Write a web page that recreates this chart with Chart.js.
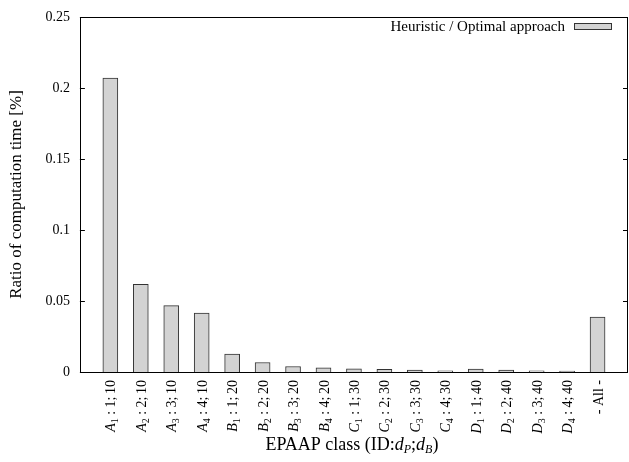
<!DOCTYPE html>
<html>
<head>
<meta charset="utf-8">
<script src="https://cdn.jsdelivr.net/npm/chart.js@4/dist/chart.umd.min.js"></script>
<style>
  html, body { margin: 0; padding: 0; background: #fff; }
  #wrap { width: 629px; height: 462px; }
</style>
</head>
<body>
<div id="wrap"><canvas id="grafico"></canvas></div>
<script>
// ---- dados
const classLetters = ['A', 'A', 'A', 'A', 'B', 'B', 'B', 'B', 'C', 'C', 'C', 'C', 'D', 'D', 'D', 'D'];
const classIndex = ['1', '2', '3', '4', '1', '2', '3', '4', '1', '2', '3', '4', '1', '2', '3', '4'];
const dPValues = ['1', '2', '3', '4', '1', '2', '3', '4', '1', '2', '3', '4', '1', '2', '3', '4'];
const dBValues = ['10', '10', '10', '10', '20', '20', '20', '20', '30', '30', '30', '30', '40', '40', '40', '40'];
const allLabel = '- All -';
const ratios = [0.207, 0.0618, 0.0467, 0.0415, 0.0127, 0.0067, 0.0039, 0.003,
                0.0023, 0.0018, 0.0013, 0.0008, 0.002, 0.0013, 0.0008, 0.0006, 0.0386];
const yTicks = [0, 0.05, 0.1, 0.15, 0.2, 0.25];
const seriesLabel = 'Heuristic / Optimal approach';

const SERIF = '"Liberation Serif", "DejaVu Serif", serif';

// monta as partes de um rótulo do eixo x (A_1 : 1; 10)
function partesRotulo(i) {
    if (i >= classLetters.length) return [{ t: allLabel, f: '14px ' + SERIF, dy: 0, gap: 0 }];
    return [
        { t: classLetters[i], f: 'italic 14px ' + SERIF, dy: 0, gap: 0 },
        { t: classIndex[i], f: '10px ' + SERIF, dy: 3, gap: 3.5 },
        { t: ':', f: '14px ' + SERIF, dy: 0, gap: 3.5 },
        { t: dPValues[i] + ';', f: '14px ' + SERIF, dy: 0, gap: 2.5 },
        { t: dBValues[i], f: '14px ' + SERIF, dy: 0, gap: 0 }
    ];
}

// moldura, marcas internas do eixo y, rótulos do eixo x e legenda
const molduraPlugin = {
    id: 'moldura',
    afterDraw(chart) {
        const { ctx, chartArea: a, scales } = chart;
        ctx.save();
        ctx.strokeStyle = '#000';
        ctx.lineWidth = 1;
        ctx.strokeRect(Math.round(a.left) + 0.5, Math.round(a.top) + 0.5,
                       Math.round(a.right - a.left) - 1, Math.round(a.bottom - a.top));
        // ticks para dentro, dos dois lados
        yTicks.forEach(t => {
            const py = Math.round(scales.y.getPixelForValue(t)) + 0.5;
            ctx.beginPath();
            ctx.moveTo(a.left, py); ctx.lineTo(a.left + 5, py);
            ctx.moveTo(a.right, py); ctx.lineTo(a.right - 5, py);
            ctx.stroke();
        });

        // rótulos rotacionados do eixo x
        ctx.fillStyle = '#000';
        ctx.textBaseline = 'alphabetic';
        ctx.textAlign = 'left';
        ratios.forEach((v, i) => {
            const px = scales.x.getPixelForValue(i);
            const parts = partesRotulo(i);
            let total = 0;
            parts.forEach(p => { ctx.font = p.f; p.w = ctx.measureText(p.t).width; total += p.w + p.gap; });
            ctx.save();
            ctx.translate(px, a.bottom + 8);
            ctx.rotate(-Math.PI / 2);
            let x = -total;
            parts.forEach(p => {
                ctx.font = p.f;
                ctx.fillText(p.t, x, 5 + p.dy);
                x += p.w + p.gap;
            });
            ctx.restore();
        });

        // título do eixo x com d_P e d_B
        const tparts = [
            { t: 'EPAAP class (ID:', f: '18px ' + SERIF, dy: 0 },
            { t: 'd', f: 'italic 18px ' + SERIF, dy: 0 },
            { t: 'P', f: 'italic 12px ' + SERIF, dy: 3 },
            { t: ';', f: '18px ' + SERIF, dy: 0 },
            { t: 'd', f: 'italic 18px ' + SERIF, dy: 0 },
            { t: 'B', f: 'italic 12px ' + SERIF, dy: 3 },
            { t: ')', f: '18px ' + SERIF, dy: 0 }
        ];
        let tw = 0;
        tparts.forEach(p => { ctx.font = p.f; p.w = ctx.measureText(p.t).width; tw += p.w; });
        let tx = (a.left + a.right) / 2 - tw / 2 - 2;
        tparts.forEach(p => {
            ctx.font = p.f;
            ctx.fillText(p.t, tx, 450 + p.dy);
            tx += p.w;
        });

        // legenda dentro da área, texto à esquerda da caixa
        const ds = chart.data.datasets[0];
        ctx.font = '15px ' + SERIF;
        ctx.textAlign = 'right';
        ctx.textBaseline = 'middle';
        ctx.fillText(ds.label, a.right - 63, a.top + 10);
        ctx.fillStyle = ds.backgroundColor;
        ctx.fillRect(a.right - 54, a.top + 7, 37, 6);
        ctx.strokeStyle = ds.borderColor;
        ctx.strokeRect(a.right - 53.5, a.top + 6.5, 37, 6);
        ctx.restore();
    }
};

const ctx = document.getElementById('grafico').getContext('2d');
const grafico = new Chart(ctx, {
    type: 'bar',
    data: {
        datasets: [{
            label: seriesLabel,
            data: ratios.map((v, i) => ({ x: i, y: v })),
            backgroundColor: '#d3d3d3',
            borderColor: '#333333',
            borderWidth: 1,
            borderSkipped: 'bottom',
            barThickness: 15
        }]
    },
    options: {
        responsive: true,
        maintainAspectRatio: false,
        animation: false,
        devicePixelRatio: 1,
        layout: { padding: { top: 10, right: 1, bottom: 90, left: 0 } },
        plugins: {
            tooltip: { enabled: false },
            legend: { display: false }
        },
        scales: {
            x: {
                type: 'linear',
                min: -1,
                max: 17,
                offset: false,
                grid: { display: false, drawTicks: false },
                border: { display: false },
                ticks: { display: false }
            },
            y: {
                min: 0,
                max: 0.25,
                afterBuildTicks: scale => { scale.ticks = yTicks.map(v => ({ value: v })); },
                grid: { display: false, drawTicks: false },
                border: { display: false },
                ticks: {
                    color: '#000',
                    padding: 10,
                    font: { family: SERIF, size: 14, lineHeight: 1 },
                    callback: v => String(v)
                },
                title: {
                    display: true,
                    text: 'Ratio of computation time [%]',
                    color: '#000',
                    font: { family: SERIF, size: 17 },
                    padding: { top: 6, bottom: 9 }
                }
            }
        }
    },
    plugins: [molduraPlugin]
});
</script>
</body>
</html>
